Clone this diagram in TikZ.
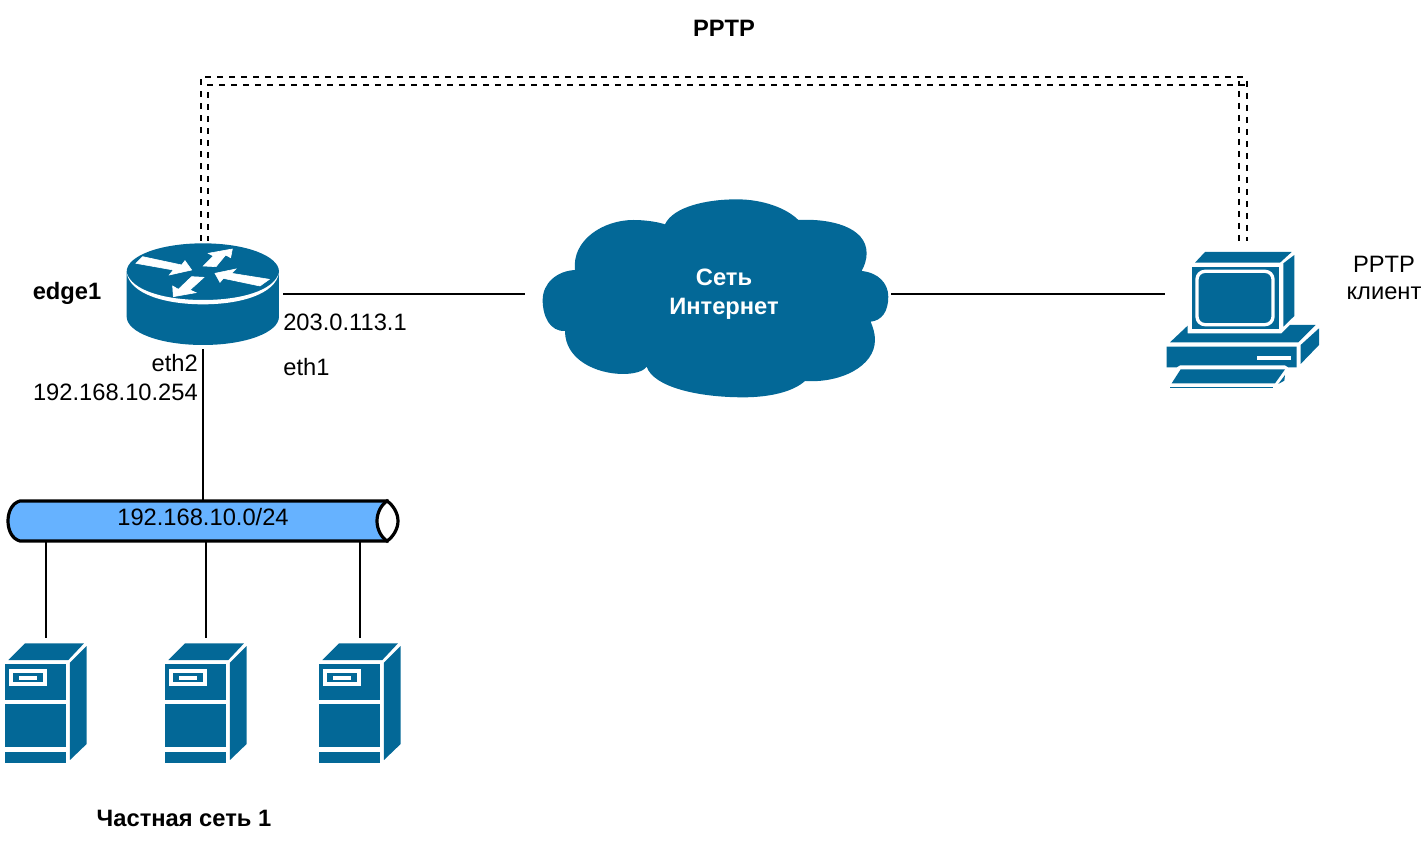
\documentclass[tikz,border=0pt]{standalone}
\usepackage{fontspec}
\setmainfont{Liberation Sans}
\definecolor{cisco}{HTML}{036897}
\definecolor{tubeblue}{HTML}{66B2FF}
\tikzset{
  x=1pt,y=-1pt,
  lbl/.style={font=\fontsize{23.7}{28}\selectfont,inner sep=0pt,align=center,text=black},
  boldlbl/.style={lbl,font=\fontsize{23.7}{28}\selectfont\bfseries},
  hit/.style={rectangle,inner sep=0pt,outer sep=0pt,draw=none,fill=none},
  wire/.style={draw=black,line width=2pt},
  tunnel/.style={draw=black,line width=2pt,dash pattern=on 6pt off 6pt},
  icon/.style={fill=cisco,draw=none},
  glyph/.style={fill=white,draw=none},
  arrowglyph/.style={fill=white,draw=white,line width=.6pt},
  serverpic/.pic={
    \begin{scope}[x=.3333pt,y=-.3333pt]
      \fill[icon] (25,90)--(75,40)--(252,40)--(205,90)--cycle;
      \fill[icon] (210,98)--(260,48)--(260,342)--(210,390)--cycle;
      \fill[icon] (15,102) rectangle (197,210);
      \fill[icon] (15,222) rectangle (197,350);
      \fill[icon] (15,365) rectangle (197,400);
      \fill[glyph] (28,118) rectangle (140,168);
      \fill[icon] (40,130) rectangle (128,156);
      \fill[glyph] (57,138) rectangle (110,150);
    \end{scope}
  },
}
\begin{document}
\begin{tikzpicture}
\useasboundingbox (0,0) rectangle (1426,842);

% router
\begin{scope}[shift={(110,220)},x=.3333pt,y=-.3333pt]
  \fill[icon] (50,155) .. controls (50,108) and (150,70) .. (279,70)
     .. controls (408,70) and (507,108) .. (507,155)
     -- (507,290) .. controls (507,337) and (408,375) .. (279,375)
     .. controls (150,375) and (50,337) .. (50,290) -- cycle;
  \fill[glyph] (50,158) .. controls (65,212) and (165,240) .. (279,240)
     .. controls (393,240) and (492,212) .. (507,158)
     .. controls (497,222) and (393,253) .. (279,253)
     .. controls (165,253) and (60,222) .. (50,158) -- cycle;
  \path[arrowglyph] (78,130)--(98,110)--(215,135)--(225,122)--(245,150)--(178,165)--(190,150)--cycle;
  \path[arrowglyph] (280,138)--(310,108)--(295,100)--(367,87)--(362,113)--(347,105)--(318,140)--cycle;
  \path[arrowglyph] (315,160)--(378,147)--(365,160)--(478,178)--(450,198)--(340,175)--(330,187)--cycle;
  \path[arrowglyph] (190,230)--(188,198)--(205,208)--(245,170)--(282,172)--(240,210)--(258,218)--cycle;
\end{scope}

% cloud
\begin{scope}[shift={(530,190)},x=.3333pt,y=-.3333pt]
  \fill[icon] (405,103) .. controls (430,50) and (530,28) .. (620,28)
    .. controls (700,28) and (770,55) .. (805,90)
    .. controls (900,85) and (1010,110) .. (1010,190)
    .. controls (1010,210) and (1003,228) .. (995,243)
    .. controls (1045,248) and (1075,280) .. (1075,320)
    .. controls (1075,365) and (1055,392) .. (1022,395)
    .. controls (1030,415) and (1035,430) .. (1035,450)
    .. controls (1035,530) and (930,580) .. (825,573)
    .. controls (790,605) and (720,622) .. (640,622)
    .. controls (500,622) and (370,590) .. (350,530)
    .. controls (340,545) and (310,552) .. (280,552)
    .. controls (200,552) and (105,510) .. (105,423)
    .. controls (60,425) and (38,380) .. (38,330)
    .. controls (38,280) and (80,243) .. (135,240)
    .. controls (125,150) and (220,90) .. (310,90)
    .. controls (345,90) and (380,95) .. (405,103) -- cycle;
\end{scope}

% computer
\begin{scope}[shift={(1150,230)},x=.3333pt,y=-.3333pt]
  \fill[icon] (135,98)--(165,66)--(425,66)--(390,98)--cycle;
  \fill[icon] (125,110) rectangle (387,298);
  \fill[icon] (400,100)--(433,75)--(433,258)--(400,290)--cycle;
  \draw[white,line width=3.3pt,rounded corners=8pt] (141,124) rectangle (369,284);
  \fill[icon] (60,337)--(113,287)--(113,310)--(395,310)--(420,285)--(497,285)--(445,337)--cycle;
  \fill[icon] (50,350)--(440,350)--(440,412)--(415,412)--(405,406)--(90,406)--(80,412)--(50,412)--cycle;
  \fill[glyph] (322,378) rectangle (423,390);
  \fill[icon] (452,345)--(507,295)--(507,345)--(452,402)--cycle;
  \fill[icon] (92,418)--(405,418)--(375,460)--(65,460)--cycle;
  \fill[icon] (60,470) rectangle (370,473);
  \fill[icon] (385,462)--(405,435)--(403,452)--cycle;
\end{scope}

% servers
\foreach \sx in {0,160,314} {
  \pic at (\sx,630) {serverpic};
}

% connection boxes
\node[hit,minimum width=160pt,minimum height=110pt] (router) at (203,294) {};
\node[hit,minimum width=366pt,minimum height=190pt] (cloud) at (708,294) {};
\node[hit,minimum width=160pt,minimum height=100pt] (pc) at (1245,294) {};
\node[hit,minimum width=391pt,minimum height=40pt] (tube) at (203,521) {};
\node[hit,minimum width=82pt,minimum height=8pt] (srvA) at (46,642) {};
\node[hit,minimum width=82pt,minimum height=8pt] (srvB) at (206,642) {};
\node[hit,minimum width=82pt,minimum height=8pt] (srvC) at (360,642) {};

% tube
\path[fill=tubeblue,draw=black,line width=3.2pt]
  (20,501) .. controls (12,503) and (8,512) .. (8,521)
  .. controls (8,530) and (12,539) .. (20,541) -- (387,541)
  -- (387,501) -- cycle;
\path[fill=white,draw=black,line width=3.2pt]
  (387,501) .. controls (381,505) and (377,513) .. (377,521)
  .. controls (377,529) and (381,537) .. (387,541)
  .. controls (393,537) and (398,529) .. (398,521)
  .. controls (398,513) and (393,505) .. (387,501) -- cycle;

% connectors
\draw[wire] (router.east) -- (cloud.west);
\draw[wire] (cloud.east) -- (pc.west);
\draw[wire] (router.south) -- (tube.north);
\draw[wire] (srvA.north |- tube.south) -- (srvA.north);
\draw[wire] (srvB.north |- tube.south) -- (srvB.north);
\draw[wire] (srvC.north |- tube.south) -- (srvC.north);

% PPTP tunnel (double dashed)
\coordinate (tunA) at ([xshift=-2pt,yshift=-2pt]router.north);
\coordinate (tunB) at ([xshift=5pt,yshift=-2pt]router.north);
\coordinate (tunC) at ([xshift=2pt,yshift=3pt]pc.north);
\coordinate (tunD) at ([xshift=-6pt,yshift=3pt]pc.north);
\coordinate (tunAup) at (tunA |- 0,77);
\coordinate (tunBup) at (tunB |- 0,85);
\coordinate (tunCup) at (tunC |- 0,81);
\coordinate (tunDup) at (tunD |- 0,91);
\coordinate (tunOe) at (tunC |- 0,77);
\coordinate (tunIe) at (1245,85);
\coordinate (tunHk) at (tunD |- 0,81);
\coordinate (tunHc) at (tunD |- 0,85);
\draw[tunnel] (tunA) -- (tunAup) -- (tunOe);
\draw[tunnel] (tunCup) -- (tunC);
\draw[tunnel,dash phase=1pt] (tunB) -- (tunBup) -- (tunHc);
\draw[wire] (tunHk) -- (tunHc) -- (tunIe);
\draw[tunnel] (tunDup) -- (tunD);

% labels
\node[boldlbl] (lPptp) at (724,28) {PPTP};
\node[boldlbl] (lEdge) at (67,293.5) {edge1};
\node[boldlbl] (lPriv) at (184,818) {Частная сеть 1};
\node[lbl] (lIpA) at (345,322) {203.0.113.1};
\node[lbl] (lEthA) at (306.5,367.5) {eth1};
\node[lbl,anchor=east] (lEthB) at (198,363) {eth2};
\node[lbl,anchor=east] (lIpB) at (198,392) {192.168.10.254};
\node[lbl] (lNet) at (203,517.5) {192.168.10.0/24};
\node[lbl] (lCl1) at (1384,264) {PPTP};
\node[lbl] (lCl2) at (1384,293.5) {клиент};
\node[boldlbl,text=white,anchor=base] (lIn1) at (724,286) {Сеть};
\node[boldlbl,text=white,anchor=base] (lIn2) at (724,314) {Интернет};
\end{tikzpicture}
\end{document}
